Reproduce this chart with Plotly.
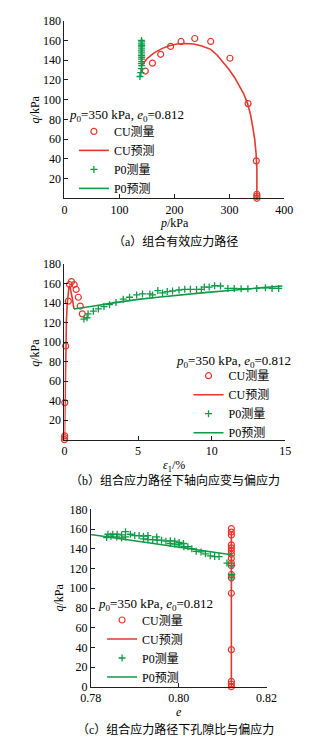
import plotly.graph_objects as go

# ---------------- data ----------------
# CU test (undrained) measured points
cu_p = [350, 350, 350, 349, 334, 301, 266, 237, 212, 193, 175, 160, 147]
cu_q = [0, 2, 4, 38, 96, 142, 159, 162, 159, 154, 146, 137, 129]
cu_eps = [0, 0.01, 0.01, 0.02, 0.08, 0.26, 0.34, 0.47, 0.66, 0.79, 0.94, 1.07, 1.21]

# CU prediction, effective stress path
cu_pred_p = [350, 350.3, 350, 348.5, 346, 342, 338, 333, 326, 318, 310, 300, 290,
             278, 266, 250, 235, 220, 205, 192, 178, 163, 150, 141]
cu_pred_q = [0, 12, 30, 46, 60, 74, 86, 96, 106, 114, 122, 130, 137,
             145, 151, 154.5, 156.5, 157, 156.5, 155, 152, 147.5, 141.5, 135]

# CU prediction, axial strain vs deviator stress
cu_pred_eps = [0, 0.02, 0.04, 0.06, 0.09, 0.13, 0.18, 0.24, 0.30, 0.36, 0.44, 0.54, 0.64]
cu_pred_q_eps = [0, 22, 48, 74, 100, 122, 138, 150, 156.5, 158, 153, 144, 134]

# P0 stage measured points, effective stress path
p0_p = [137.3, 139, 140, 140.5, 140, 140.5, 140, 140.5, 140, 140.5, 140, 140.5,
        140, 140.5, 140, 140.5, 140]
p0_q_path = [123.5, 127.5, 131.5, 134.5, 136.5, 138.5, 141, 143, 145, 147.5,
             149.5, 151.5, 153.5, 155, 156.5, 158.5, 160]

# P0 stage measured points, axial strain vs deviator stress
p0_eps = [1.32, 1.53, 1.6, 1.96, 2.3, 2.68, 3.06, 3.5, 3.99, 4.42, 4.9, 5.3, 5.8,
          5.98, 6.34, 6.66, 6.98, 7.34, 7.78, 8.17, 8.55, 8.97, 9.3, 9.5, 9.83,
          10.2, 10.6, 11.1, 11.53, 12.0, 12.46, 13.06, 13.65, 14.1, 14.55]
p0_q = [123.6, 125, 129, 131.7, 134, 136.4, 138.4, 140.7, 144, 146, 148.4, 149.4,
        149.4, 148.4, 152.8, 150.4, 151.8, 152.4, 153.4, 154.1, 154.1, 154, 154,
        156.4, 156.4, 157.8, 157.5, 155, 155, 154.7, 154.7, 155, 155.7, 155, 155]

# P0 prediction
p0_pred_p = [140, 140, 140, 140, 140, 140, 140, 140, 140, 140, 140, 140]
p0_pred_eps = [0.64, 1.3, 2.0, 3.0, 4.0, 5.0, 6.5, 8.0, 9.7, 11.0, 12.5, 14.8]
p0_pred_q = [134, 135.2, 137, 139.5, 141.8, 143.8, 146.3, 148.7, 151, 152.7, 154.6, 157.5]

# void ratio vs deviator stress
cu_e_q = [0.3, 3, 5.7, 37.8, 95, 110.6, 114, 123, 125.5, 130.5, 134.5, 138, 141,
          144, 154, 157, 160.5]
cu_e = [0.812] * len(cu_e_q)
cu_pred_e = [0.812] * len(cu_pred_q_eps)

p0_e = [0.8121, 0.8121, 0.8121, 0.8110, 0.8092, 0.8082, 0.8072, 0.8061, 0.8051,
        0.8040, 0.8030, 0.8021, 0.8012, 0.8011, 0.8001, 0.8001, 0.7991, 0.7991,
        0.7981, 0.7981, 0.7971, 0.7961, 0.7951, 0.7950, 0.7941, 0.7930, 0.7930,
        0.7920, 0.7920, 0.7910, 0.7900, 0.7890, 0.7879, 0.7879, 0.7870, 0.7870,
        0.7860, 0.7859, 0.7850, 0.7846, 0.7839, 0.7836]
p0_e_q = [123, 114, 110.6, 125.6, 132.2, 132.2, 132.9, 134.9, 136.9,
          137.5, 140.2, 142.1, 142.1, 145.4, 144.1, 146.4, 144.8, 147.8,
          145.4, 148.1, 147.8, 148.8, 148.8, 152.1, 149.4, 149.4, 153.4,
          150.1, 152.8, 153.4, 153.4, 154.8, 157.4, 152.1, 154.1, 151.1,
          154.8, 152.1, 154.8, 152.8, 154.8, 151.4]
p0_pred_e_c = [0.812, 0.804, 0.796, 0.788, 0.780, 0.776]
p0_pred_q_c = [134, 139, 144.2, 149.3, 154.5, 157.5]

# ---------------- style ----------------
RED = "#e8362d"
GREEN = "#0e9a47"
INK = "#231f20"
FONT = "Liberation Serif, Noto Sans CJK SC, serif"
W, H = 331, 744


def px(x):
    return x / W


def py(y):
    return 1 - y / H


fig = go.Figure()


def add_panel(n, x_meas_cu, y_meas_cu, x_pred_cu, y_pred_cu,
              x_meas_p0, y_meas_p0, x_pred_p0, y_pred_p0):
    sfx = "" if n == 1 else str(n)
    lg = "legend" if n == 1 else f"legend{n}"
    common = dict(xaxis="x" + sfx, yaxis="y" + sfx, legend=lg, cliponaxis=False)
    fig.add_trace(go.Scatter(x=x_meas_cu, y=y_meas_cu, mode="markers", name="CU测量",
                             marker=dict(symbol="circle-open", size=6, color=RED,
                                         line=dict(width=1.2, color=RED)), **common))
    fig.add_trace(go.Scatter(x=x_pred_cu, y=y_pred_cu, mode="lines", name="CU预测",
                             line=dict(color=RED, width=1.6), **common))
    fig.add_trace(go.Scatter(x=x_meas_p0, y=y_meas_p0, mode="markers", name="P0测量",
                             marker=dict(symbol="cross-thin", size=5, color=GREEN,
                                         line=dict(width=1.3, color=GREEN)), **common))
    fig.add_trace(go.Scatter(x=x_pred_p0, y=y_pred_p0, mode="lines", name="P0预测",
                             line=dict(color=GREEN, width=1.6), **common))


add_panel(1, cu_p, cu_q, cu_pred_p, cu_pred_q, p0_p, p0_q_path, p0_pred_p, p0_pred_q)
add_panel(2, cu_eps, cu_q, cu_pred_eps, cu_pred_q_eps, p0_eps, p0_q, p0_pred_eps, p0_pred_q)
add_panel(3, cu_e, cu_e_q, cu_pred_e, cu_pred_q_eps, p0_e, p0_e_q, p0_pred_e_c, p0_pred_q_c)

axis_style = dict(showline=True, linecolor=INK, linewidth=1, ticks="inside", ticklen=4,
                  tickcolor=INK, tickwidth=1, showgrid=False, zeroline=False,
                  tickfont=dict(family=FONT, size=12, color="#000"), fixedrange=True)

q_ticks = [20, 40, 60, 80, 100, 120, 140, 160, 180]

fig.update_layout(
    width=W, height=H, margin=dict(l=0, r=0, t=0, b=0),
    paper_bgcolor="white", plot_bgcolor="white",
    font=dict(family=FONT, size=12, color="#000"),
    xaxis=dict(domain=[px(58), px(292)], range=[0, 400], tickvals=[0, 100, 200, 300, 400],
               anchor="y", **axis_style),
    yaxis=dict(domain=[py(195), py(14)], range=[0, 180], tickvals=q_ticks,
               anchor="x", **axis_style),
    xaxis2=dict(domain=[px(58), px(293)], range=[0, 15], tickvals=[0, 5, 10, 15],
                anchor="y2", **axis_style),
    yaxis2=dict(domain=[py(441), py(262)], range=[0, 180], tickvals=q_ticks,
                anchor="x2", **axis_style),
    xaxis3=dict(domain=[px(86), px(273)], range=[0.78, 0.82], tickvals=[0.78, 0.80, 0.82],
                ticktext=["0.78", "0.80", "0.82"], anchor="y3", **axis_style),
    yaxis3=dict(domain=[py(693), py(512)], range=[0, 180], tickvals=[0] + q_ticks,
                anchor="x3", **axis_style),
)

legend_style = dict(xanchor="left", yanchor="top", bgcolor="rgba(0,0,0,0)",
                    borderwidth=0, tracegroupgap=0,
                    font=dict(family=FONT, size=12, color="#000"))
fig.update_layout(
    legend=dict(x=px(68), y=py(112), **legend_style),
    legend2=dict(x=px(190), y=py(361), **legend_style),
    legend3=dict(x=px(98), y=py(610), **legend_style),
)

ann = []
cond = "<i>p</i><sub>0</sub>=350 kPa, <i>e</i><sub>0</sub>=0.812"
for x0, y0 in [(61, 111), (175, 361), (92, 609)]:
    ann.append(dict(text=cond, x=px(x0), y=py(y0), xref="paper", yref="paper",
                    xanchor="left", yanchor="middle", showarrow=False,
                    font=dict(family=FONT, size=13, color="#000")))

# axis titles
for text, x0, y0 in [("<i>p</i>/kPa", 175, 220), ("<i>ε</i><sub>1</sub>/%", 175, 468),
                     ("<i>e</i>", 180, 719)]:
    ann.append(dict(text=text, x=px(x0), y=py(y0), xref="paper", yref="paper",
                    xanchor="center", yanchor="middle", showarrow=False,
                    font=dict(family=FONT, size=12, color="#000")))
for x0, y0 in [(27, 104), (27, 352), (52, 602)]:
    ann.append(dict(text="<i>q</i>/kPa", x=px(x0), y=py(y0), xref="paper", yref="paper",
                    xanchor="center", yanchor="middle", showarrow=False, textangle=-90,
                    font=dict(family=FONT, size=12, color="#000")))

# panel captions
for text, y0 in [("（a）组合有效应力路径", 239),
                 ("（b）组合应力路径下轴向应变与偏应力", 483),
                 ("（c）组合应力路径下孔隙比与偏应力", 736)]:
    ann.append(dict(text=text, x=px(176), y=py(y0), xref="paper", yref="paper",
                    xanchor="center", yanchor="middle", showarrow=False,
                    font=dict(family=FONT, size=12, color="#000")))

fig.update_layout(annotations=ann)

fig.write_html("out.html")
